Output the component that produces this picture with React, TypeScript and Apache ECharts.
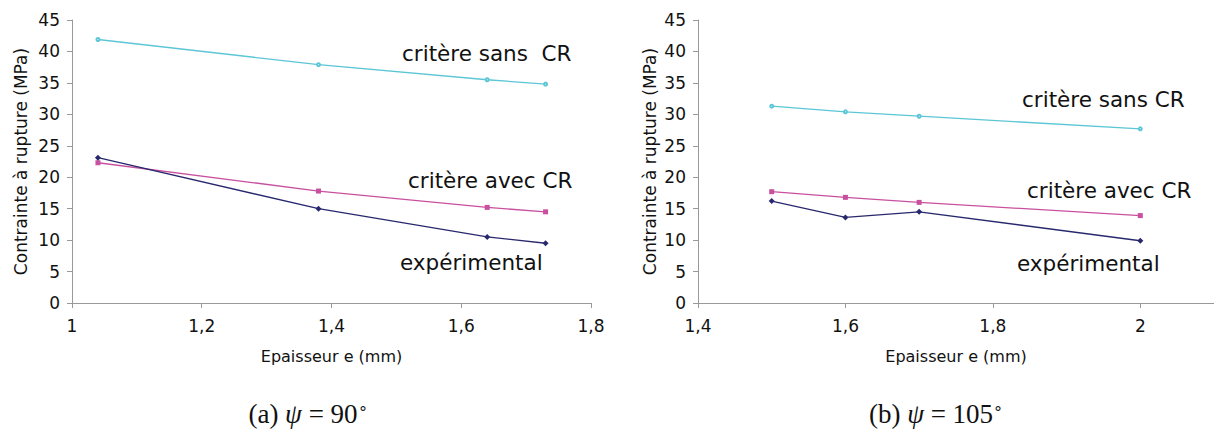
import React, { useEffect, useRef } from "react";
import * as echarts from "echarts";

// Panel (a) psi = 90°
const xA = [1.04, 1.38, 1.64, 1.73];
const sansCR_A = [41.9, 37.9, 35.5, 34.8];
const avecCR_A = [22.3, 17.8, 15.2, 14.5];
const exp_A = [23.1, 15.0, 10.5, 9.5];

// Panel (b) psi = 105°
const xB = [1.5, 1.6, 1.7, 2.0];
const sansCR_B = [31.3, 30.4, 29.7, 27.7];
const avecCR_B = [17.7, 16.8, 16.0, 13.9];
const exp_B = [16.2, 13.6, 14.5, 9.9];

const xTicksA = [1, 1.2, 1.4, 1.6, 1.8];
const xTicksB = [1.4, 1.6, 1.8, 2];
const yTicks = [0, 5, 10, 15, 20, 25, 30, 35, 40, 45];

const CYAN = "#5cc6d6";
const MAGENTA = "#c8509e";
const NAVY = "#28286e";
const FONT = "DejaVu Sans";

const zip = (xs: number[], ys: number[]) => xs.map((x, i) => [x, ys[i]]);

export default function App() {
  const ref = useRef<HTMLDivElement>(null);
  useEffect(() => {
    if (!ref.current) return;
    const chart = echarts.init(ref.current, undefined, { renderer: "svg" });

    const xAxisBase = (min: number, max: number, ticks: number[], gi: number) => ({
      type: "value",
      gridIndex: gi,
      min,
      max,
      interval: 0.2,
      name: "Epaisseur e (mm)",
      nameLocation: "middle",
      nameGap: 45,
      nameTextStyle: { fontFamily: FONT, fontSize: 16, color: "#111" },
      axisLine: { show: true, lineStyle: { color: "#999", width: 1 } },
      axisTick: { show: true, length: 5, inside: false, customValues: ticks, lineStyle: { color: "#999" } },
      axisLabel: {
        customValues: ticks,
        margin: 14,
        fontFamily: FONT,
        fontSize: 17,
        color: "#111",
        formatter: (v: number) => String(Math.round(v * 10) / 10).replace(".", ","),
      },
      splitLine: { show: false },
    });
    const yAxisBase = (gi: number, gap: number) => ({
      type: "value",
      gridIndex: gi,
      min: 0,
      max: 45,
      interval: 5,
      name: "Contrainte à rupture (MPa)",
      nameLocation: "middle",
      nameRotate: 90,
      nameGap: gap,
      nameTextStyle: { fontFamily: FONT, fontSize: 17, color: "#111" },
      axisLine: { show: true, lineStyle: { color: "#999", width: 1 } },
      axisTick: { show: true, length: 5, inside: false, customValues: yTicks, lineStyle: { color: "#999" } },
      axisLabel: { margin: 12, fontFamily: FONT, fontSize: 17, color: "#111" },
      splitLine: { show: false },
    });
    const line = (data: number[][], color: string, symbol: string, size: number, gi: number) => ({
      type: "line",
      xAxisIndex: gi,
      yAxisIndex: gi,
      data,
      symbol,
      symbolSize: size,
      itemStyle: { color },
      lineStyle: { color, width: 1.3 },
    });
    const txt = (x: number, y: number, text: string) => ({
      type: "text",
      x,
      y,
      style: { text, fontFamily: FONT, fontSize: 21.5, fill: "#111", textVerticalAlign: "middle" },
    });
    const caption = (x: number, letter: string, deg: string) => ({
      type: "text",
      x,
      y: 414,
      style: {
        text: `{n|(${letter}) }{i|ψ}{n| = ${deg}}{s|∘}`,
        textAlign: "center",
        textVerticalAlign: "middle",
        rich: {
          n: { fontFamily: "Liberation Serif", fontSize: 27, fill: "#111" },
          i: { fontFamily: "Liberation Serif", fontStyle: "italic", fontSize: 27, fill: "#111" },
          s: { fontFamily: "Liberation Serif", fontSize: 16, fill: "#111", verticalAlign: "top", padding: [0, 0, 12, 0] },
        },
      },
    });

    chart.setOption({
      animation: false,
      backgroundColor: "#fff",
      grid: [
        { left: 72, right: 1214 - 591, top: 20, bottom: 129, containLabel: false },
        { left: 698, width: 519, top: 20, bottom: 129, containLabel: false },
      ],
      xAxis: [xAxisBase(1, 1.8, xTicksA, 0), xAxisBase(1.4, 2.1, xTicksB, 1)],
      yAxis: [yAxisBase(0, 43), yAxisBase(1, 40)],
      series: [
        line(zip(xA, sansCR_A), CYAN, "emptyCircle", 3, 0),
        line(zip(xA, avecCR_A), MAGENTA, "rect", 5, 0),
        line(zip(xA, exp_A), NAVY, "diamond", 6, 0),
        line(zip(xB, sansCR_B), CYAN, "emptyCircle", 3, 1),
        line(zip(xB, avecCR_B), MAGENTA, "rect", 5, 1),
        line(zip(xB, exp_B), NAVY, "diamond", 6, 1),
      ],
      graphic: [
        txt(402, 53, "critère sans  CR"),
        txt(408, 180, "critère avec CR"),
        txt(400, 262, "expérimental"),
        txt(1022, 99, "critère sans CR"),
        txt(1027, 190, "critère avec CR"),
        txt(1017, 263, "expérimental"),
        caption(308, "a", "90"),
        caption(936, "b", "105"),
      ],
    });
    return () => chart.dispose();
  }, []);
  return (
    <div
      ref={ref}
      style={{ position: "fixed", left: 0, top: 0, width: 1214, height: 432, background: "#fff" }}
    />
  );
}
